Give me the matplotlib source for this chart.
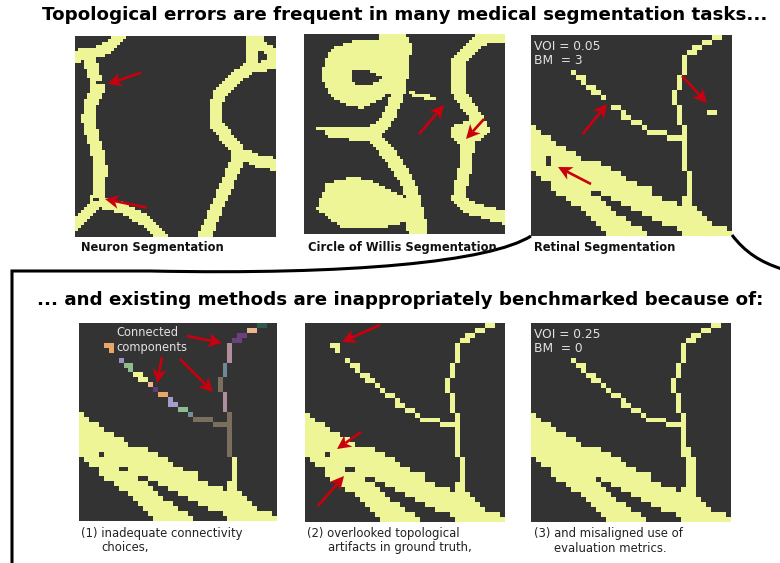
import numpy as np
import matplotlib
matplotlib.use("Agg")
import matplotlib.pyplot as plt
from matplotlib.colors import to_rgb
from matplotlib.patches import PathPatch
from matplotlib.path import Path

BG = "#333333"
FG = "#eef596"
RED = "#c9000e"

TITLE_TOP = "Topological errors are frequent in many medical segmentation tasks..."
TITLE_BOTTOM = "... and existing methods are inappropriately benchmarked because of:"
TOP_CAPTIONS = ["Neuron Segmentation", "Circle of Willis Segmentation", "Retinal Segmentation"]

BIG_VESSEL = [(18,0,0),(19,0,1),(20,0,3),(21,0,4),(22,0,6),(23,0,8),(24,0,9),(25,0,13),(26,0,15),
              (27,1,17),(28,2,18),(29,4,20),(30,4,23),(31,5,11),(31,14,23),(32,7,13),(32,16,25),
              (33,8,14),(33,18,28),(34,10,15),(34,20,32),(35,11,16),(35,22,33),(36,12,18),(36,24,34),
              (37,13,19),(37,26,35),(38,14,21),(38,29,38),(39,15,22),(39,30,39)]
STEM_THIN = [(27,31,31),(28,31,31),(29,31,31),(30,31,31),(31,31,31),(32,30,31),(33,30,31)]
STEM_WIDE = [(25,31,31),(26,31,31),(27,31,32),(28,31,32),(29,31,32),(30,31,32),(31,31,32),(32,31,32),(33,30,32),(31,12,12)]
COMPONENTS = [
    ("#9b91c4", [(7,8,8)]),
    ("#8fbb8f", [(8,9,10),(9,10,10)]),
    (FG,        [(10,11,12),(11,12,13)]),
    ("#eeb98c", [(12,14,14)]),
    ("#5f3b73", [(13,15,15)]),
    ("#e8a768", [(14,16,17)]),
    ("#a79bcb", [(15,18,18),(16,18,19)]),
    ("#8fbb8f", [(17,20,21)]),
    ("#6f8f9b", [(18,22,22)]),
    ("#7a6f5d", [(19,23,26),(20,27,29),(18,30,30),(19,30,30),(20,30,30),(21,30,30),(22,30,30),
                 (23,30,30),(24,30,30),(25,30,30),(26,30,30)]),
    ("#b08e9b", [(14,29,29),(15,29,29),(16,29,29),(17,29,29)]),
    ("#7a6f5d", [(11,28,28),(12,28,28),(13,28,28)]),
    ("#6b8a95", [(8,29,29),(9,29,29),(10,29,29)]),
    ("#b48d9b", [(4,30,30),(5,30,30),(6,30,30),(7,30,30)]),
    ("#6c3f7d", [(2,32,33),(3,31,32)]),
    ("#eeb68c", [(1,34,35)]),
    ("#2f5a4c", [(0,36,37)]),
]
ISOLATED_ARTIFACT = [(4,5,6),(5,6,6)]
ISOLATED_FRAGMENT = [(15,35,36)]
HOLE_A = [(24,3,3),(25,3,3)]
HOLE_B = [(26,4,4)]
HOLE_C = [(29,8,9)]
GAP = [(13,15,15)]

NEURON_ORIGIN = (45, 33)
NEURON_STROKES = [
    ([(183,28),(150,62),(110,82),(40,95)], 36),
    ([(90,95),(98,140),(108,168)], 39),
    ([(115,190),(95,230),(85,280),(100,340),(118,400),(122,440),(115,500),(112,530)], 39),
    ([(112,530),(80,565),(40,605)], 34),
    ([(120,530),(190,550),(260,590),(315,645)], 34),
    ([(430,645),(465,560),(500,480),(540,385),(470,300),(465,250),(480,205),(530,155),(575,125)], 39),
    ([(540,385),(600,410),(655,420)], 37),
]
NEURON_SHAPES = [[(560,25),(612,25),(612,50),(655,75),(655,125),(600,142),(555,135)]]
NEURON_HOLES = [[(595,72),(625,95),(597,118)], [(100,515),(118,515),(118,530),(100,530)],
                [(108,172),(126,172),(126,178),(108,178)]]

WILLIS_ORIGIN = (27, 27)
WILLIS_STROKES = [
    ([(310,200),(285,270),(245,320)], 38),
    ([(235,335),(290,400),(340,480),(365,560),(375,635)], 42),
    ([(345,205),(420,222)], 12),
    ([(65,310),(90,312)], 9),
    ([(640,35),(560,40),(490,110),(490,200),(545,280),(550,300)], 39),
    ([(520,350),(510,430),(490,520),(520,550),(640,585)], 39),
]
WILLIS_SHAPES = [
    [(255,20),(320,20),(350,55),(345,100),(335,180),(330,210),(290,210),(285,205),(250,225),(200,250),
     (140,235),(100,205),(80,160),(90,100),(120,65),(170,50),(255,40)],
    [(88,310),(215,305),(260,290),(265,330),(225,350),(130,345),(88,335)],
    [(65,555),(95,480),(170,457),(230,470),(340,525),(345,520),(400,600),(400,635),(340,635),(330,590),
     (300,605),(230,615),(140,610)],
    [(465,320),(480,298),(570,280),(585,320),(550,355),(490,360),(465,340)],
]
WILLIS_HOLES = [[(170,140),(200,132),(240,145),(260,157),(240,175),(190,185),(172,165)]]

ARROWS = [((141,72.7),(107.7,84)), ((146.7,207.7),(105,199)),
          ((419,134),(444,105)), ((484,119),(466,139)),
          ((582.7,134),(607,104)), ((682,76),(707,103)), ((591,184),(558,167)),
          ((187,336),(222,343)), ((162,357),(157,383)), ((180,359),(213,392)),
          ((380,325),(342,342)), ((361,432),(337,449)), ((318,506),(344,476))]


def retina(*groups, holes=()):
    img = np.zeros((40, 40, 3)) + np.array(to_rgb(BG))
    for color, runs in groups:
        for r, a, b in runs:
            img[r, a:b+1] = to_rgb(color)
    for runs in holes:
        for r, a, b in runs:
            img[r, a:b+1] = to_rgb(BG)
    return img


def smooth_panel(origin, strokes, shapes, holes, n=67):
    size = 603.0
    centers = origin[0] + (np.arange(n) + .5) * size / n, origin[1] + (np.arange(n) + .5) * size / n
    X, Y = np.meshgrid(*centers)
    P = np.column_stack([X.ravel(), Y.ravel()])
    mask = np.zeros(len(P), bool)
    for pts, w in strokes:
        pts = np.array(pts, float)
        for a, b in zip(pts[:-1], pts[1:]):
            d = b - a
            t = np.clip(((P - a) @ d) / (d @ d), 0, 1)
            mask |= np.hypot(*(P - (a + t[:, None] * d)).T) <= w / 2
    for s in shapes:
        mask |= Path(s).contains_points(P)
    for s in holes:
        mask &= ~Path(s).contains_points(P)
    mask = mask.reshape(n, n)
    img = np.zeros((n, n, 3)) + np.array(to_rgb(BG))
    img[mask] = to_rgb(FG)
    return img


def arrow(ax, tail, tip, length=14, half=7, notch=4):
    tail, tip = np.array(tail, float), np.array(tip, float)
    u = (tip - tail) / np.hypot(*(tip - tail))
    n = np.array([-u[1], u[0]])
    base = tip - u * length
    mid = tip - u * (length - notch)
    ax.plot(*zip(tail, mid), color=RED, lw=1.9, solid_capstyle="butt", zorder=4)
    ax.fill(*zip(tip, base + n * half, mid, base - n * half), color=RED, lw=0, zorder=4)


fig = plt.figure(figsize=(7.8, 5.63), dpi=100)
ax = fig.add_axes([0, 0, 1, 1])
ax.axis("off")

yellow_diag = [(FG, runs) for _, runs in COMPONENTS]
panels = [
    (smooth_panel(NEURON_ORIGIN, NEURON_STROKES, NEURON_SHAPES, NEURON_HOLES), (75, 276, 237, 36)),
    (smooth_panel(WILLIS_ORIGIN, WILLIS_STROKES, WILLIS_SHAPES, WILLIS_HOLES), (304, 505, 234, 34)),
    (retina((FG, BIG_VESSEL), (FG, STEM_THIN), *yellow_diag, (FG, ISOLATED_FRAGMENT), holes=[HOLE_A, GAP]),
     (531, 732, 236, 35)),
    (retina((FG, BIG_VESSEL), (FG, STEM_THIN), *COMPONENTS, ("#e8a768", ISOLATED_ARTIFACT), holes=[HOLE_B, HOLE_C]),
     (79, 277, 521, 323)),
    (retina((FG, BIG_VESSEL), (FG, STEM_THIN), *yellow_diag, (FG, ISOLATED_ARTIFACT), holes=[HOLE_B, HOLE_C]),
     (305, 505, 522, 323)),
    (retina((FG, BIG_VESSEL), (FG, STEM_WIDE), *yellow_diag), (531, 731, 522, 323)),
]
for img, ext in panels:
    ax.imshow(img, extent=ext, interpolation="nearest", aspect="auto", zorder=1)

curve = Path([(12, 563), (12, 271), (150, 271), (350, 275), (490, 262), (531, 236)],
             [Path.MOVETO, Path.LINETO, Path.LINETO, Path.CURVE4, Path.CURVE4, Path.CURVE4])
ax.add_patch(PathPatch(curve, fc="none", ec="black", lw=2.2, zorder=2, joinstyle="miter"))
curve2 = Path([(732, 235), (745, 252), (760, 262), (782, 269)],
              [Path.MOVETO, Path.CURVE4, Path.CURVE4, Path.CURVE4])
ax.add_patch(PathPatch(curve2, fc="none", ec="black", lw=2.2, zorder=2))

for tail, tip in ARROWS:
    arrow(ax, tail, tip)

ax.set_xlim(0, 780)
ax.set_ylim(563, 0)

ax.text(405, 15, TITLE_TOP, ha="center", va="center", fontsize=13.13, fontweight="bold", color="black")
ax.text(400.5, 300, TITLE_BOTTOM, ha="center", va="center", fontsize=13.13, fontweight="bold", color="black")

for x, s in zip((81, 308, 534), TOP_CAPTIONS):
    ax.text(x, 248, s, ha="left", va="center", fontsize=8.3, fontweight="bold", color="#111111")

for x, y, s in [(81, 534, "(1) inadequate connectivity"), (101, 548, "choices,"),
                (307, 534, "(2) overlooked topological"), (328, 548, "artifacts in ground truth,"),
                (534, 534, "(3) and misaligned use of"), (554, 548, "evaluation metrics.")]:
    ax.text(x, y, s, ha="left", va="center", fontsize=8.4, color="#222222")

for x, y, s in [(534, 47, "VOI = 0.05"), (534, 61, "BM  = 3"),
                (534, 334, "VOI = 0.25"), (534, 349, "BM  = 0")]:
    ax.text(x, y, s, ha="left", va="center", fontsize=8.8, color="#e2e2e2", zorder=5)
for x, y, s in [(116, 333, "Connected"), (116, 347, "components")]:
    ax.text(x, y, s, ha="left", va="center", fontsize=8.3, color="#e2e2e2", zorder=5)

fig.savefig("out.png", dpi=100)
